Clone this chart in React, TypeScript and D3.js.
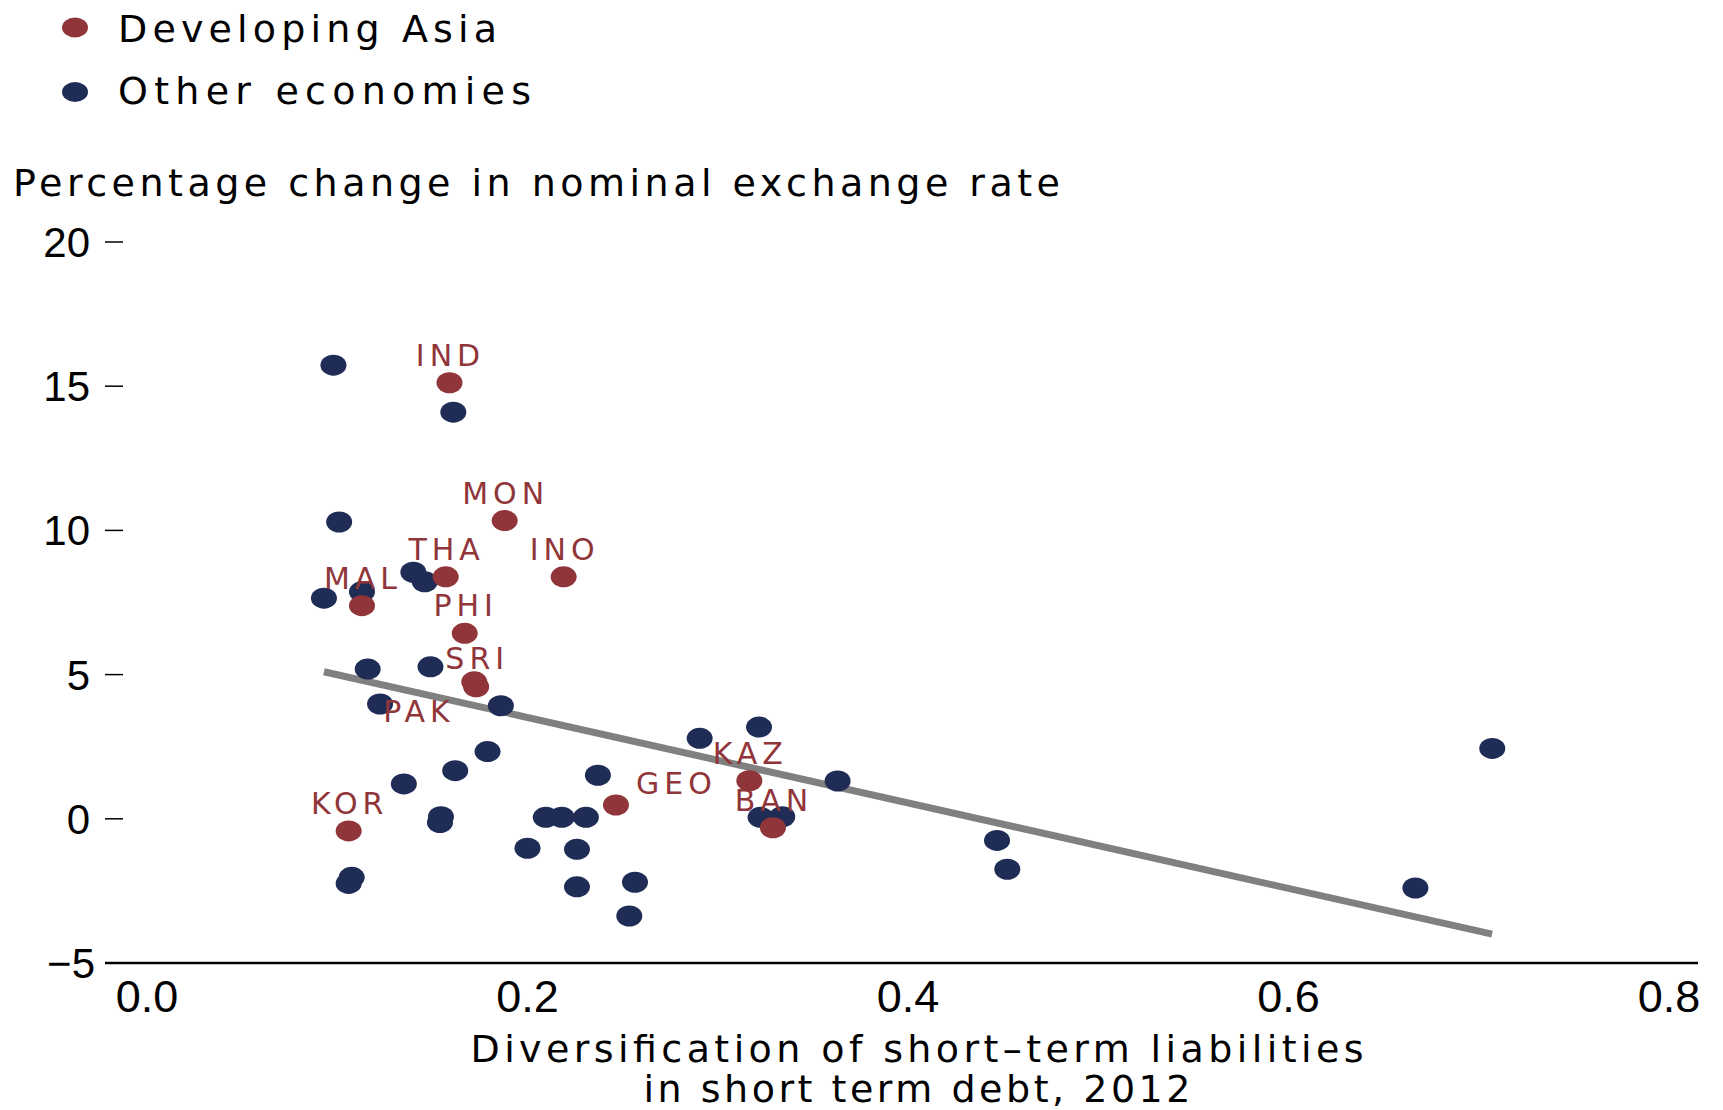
import React from "react";
import * as d3 from "d3";

// ---- data ----
const asiaLabels = ["IND", "MON", "THA", "INO", "MAL", "PHI", "SRI", "", "KOR", "GEO", "KAZ", "BAN"];
const asiaX = [0.159, 0.188, 0.157, 0.219, 0.113, 0.167, 0.172, 0.173, 0.106, 0.2465, 0.3166, 0.329];
const asiaY = [15.12, 10.34, 8.39, 8.39, 7.39, 6.43, 4.75, 4.58, -0.42, 0.48, 1.32, -0.31];

const otherX = [
  0.098, 0.161, 0.101, 0.14, 0.146, 0.113, 0.093, 0.116, 0.149, 0.1225, 0.186, 0.179, 0.162, 0.135,
  0.1545, 0.154, 0.1076, 0.106, 0.2, 0.2096, 0.218, 0.2307, 0.226, 0.226, 0.237, 0.2565, 0.2535,
  0.2905, 0.3217, 0.3225, 0.3339, 0.363, 0.4468, 0.4522, 0.6667, 0.7071,
];
const otherY = [
  15.73, 14.1, 10.29, 8.55, 8.22, 7.87, 7.65, 5.19, 5.27, 3.98, 3.92, 2.33, 1.67, 1.21, 0.07, -0.13,
  -2.03, -2.24, -1.02, 0.05, 0.05, 0.05, -1.06, -2.36, 1.51, -2.2, -3.37, 2.79, 3.18, 0.05, 0.07,
  1.31, -0.75, -1.75, -2.4, 2.44,
];

// extra annotation (label placed near an economy point)
const extraLabelText = ["PAK"];
const extraLabelX = [0.1225];
const extraLabelY = [3.98];

const trendX = [0.093, 0.707];
const trendY = [5.1, -4.0];

const xTicks = [0, 0.2, 0.4, 0.6, 0.8];
const yTicks = [-5, 0, 5, 10, 15, 20];

const legendNames = ["Developing Asia", "Other economies"];
const yTitle = "Percentage change in nominal exchange rate";
const xTitleLines = ["Diversification of short\u2013term liabilities", "in short term debt, 2012"];

// ---- styles ----
const RED = "#903539";
const BLUE = "#1f2d56";
const GRAY = "#808080";
const FONT = "'Liberation Sans', Arial, sans-serif";
const TFONT = "'DejaVu Sans', sans-serif";

const labelPlacement: Record<string, { dx: number; dy: number; anchor: string }> = {
  SRI: { dx: 3, dy: -13, anchor: "middle" },
  GEO: { dx: 20, dy: -11, anchor: "start" },
  PAK: { dx: 39, dy: 18, anchor: "middle" },
};
const defaultPlacement = { dx: 1, dy: -17, anchor: "middle" };

export default function App() {
  const W = 1723;
  const H = 1110;
  const x = d3.scaleLinear().domain([0, 0.8]).range([147, 1669]);
  const y = d3.scaleLinear().domain([-5, 20]).range([963, 242]);
  const line = d3
    .line<number>()
    .x((_, i) => x(trendX[i]))
    .y((d) => y(d));

  const labelEl = (text: string, vx: number, vy: number, key: string) => {
    const p = labelPlacement[text] || defaultPlacement;
    return (
      <text
        key={key}
        x={x(vx) + p.dx}
        y={y(vy) + p.dy}
        textAnchor={p.anchor as any}
        fill={RED}
        fontFamily={TFONT}
        fontSize={30}
        letterSpacing={5}
      >
        {text}
      </text>
    );
  };

  return (
    <svg
      width={W}
      height={H}
      style={{ position: "absolute", left: 0, top: 0, background: "#fff" }}
    >
      {/* legend */}
      <ellipse cx={75} cy={27.5} rx={13} ry={10} fill={RED} />
      <ellipse cx={75} cy={92} rx={13} ry={10} fill={BLUE} />
      <text x={118} y={41.5} fontFamily={TFONT} fontSize={38} textLength={379} lengthAdjust="spacing">
        {legendNames[0]}
      </text>
      <text x={118} y={104} fontFamily={TFONT} fontSize={38} textLength={413} lengthAdjust="spacing">
        {legendNames[1]}
      </text>

      {/* y title */}
      <text x={13} y={196} fontFamily={TFONT} fontSize={38} textLength={1047} lengthAdjust="spacing">
        {yTitle}
      </text>

      {/* y ticks */}
      {yTicks.map((t) => (
        <g key={"yt" + t}>
          {t !== -5 && <line x1={105} x2={123} y1={y(t)} y2={y(t)} stroke="#000" strokeWidth={1.5} />}
          <text
            x={t === -5 ? 95 : 90}
            y={y(t) + 15}
            textAnchor="end"
            fontFamily={FONT}
            fontSize={42}
          >
            {t < 0 ? "\u2212" + Math.abs(t) : String(t)}
          </text>
        </g>
      ))}

      {/* x axis */}
      <line x1={105} x2={1698} y1={y(-5)} y2={y(-5)} stroke="#000" strokeWidth={2.5} />
      {xTicks.map((t) => (
        <text
          key={"xt" + t}
          x={x(t)}
          y={1012}
          textAnchor="middle"
          fontFamily={FONT}
          fontSize={45}
        >
          {t.toFixed(1)}
        </text>
      ))}
      <text x={917} y={1062} textAnchor="middle" fontFamily={TFONT} fontSize={38} textLength={893} lengthAdjust="spacing">
        {xTitleLines[0]}
      </text>
      <text x={917} y={1102} textAnchor="middle" fontFamily={TFONT} fontSize={38} textLength={547} lengthAdjust="spacing">
        {xTitleLines[1]}
      </text>

      {/* trend line */}
      <path d={line(trendY) || ""} stroke={GRAY} strokeWidth={7} fill="none" />

      {/* other economies */}
      {otherX.map((vx, i) => (
        <ellipse key={"o" + i} cx={x(vx)} cy={y(otherY[i])} rx={13} ry={10.5} fill={BLUE} />
      ))}

      {/* developing Asia */}
      {asiaX.map((vx, i) => (
        <ellipse key={"a" + i} cx={x(vx)} cy={y(asiaY[i])} rx={13} ry={10.5} fill={RED} />
      ))}

      {/* labels */}
      {asiaLabels.map((l, i) => (l ? labelEl(l, asiaX[i], asiaY[i], "l" + i) : null))}
      {extraLabelText.map((l, i) => labelEl(l, extraLabelX[i], extraLabelY[i], "e" + i))}
    </svg>
  );
}
